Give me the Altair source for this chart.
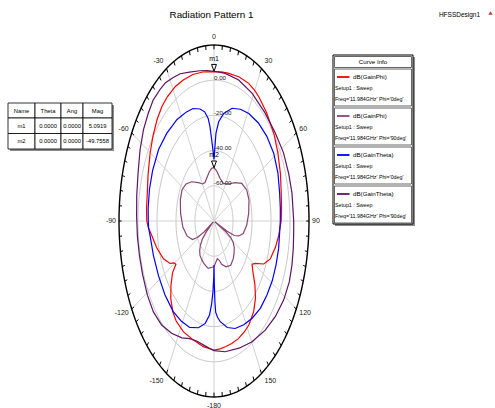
import altair as alt
import numpy as np
import pandas as pd

# ---------------------------------------------------------------------------
# Canvas / polar layout
# ---------------------------------------------------------------------------
W, H = 495, 408
CX, CY = 214, 221          # centre of the pattern (px)
RX, RY = 95, 176           # half-axes of the outer ring (px)
DB_MIN, DB_MAX = -80, 20   # radial range (dB)
FONT = "Liberation Sans Narrow, Arial Narrow, Liberation Sans, Arial, sans-serif"

# ---------------------------------------------------------------------------
# Marker table values
# ---------------------------------------------------------------------------
marker_names = ["m1", "m2"]
marker_theta = [0.0, 0.0]
marker_ang = [0.0, 0.0]
marker_mag = [5.0919, -49.7558]

# ---------------------------------------------------------------------------
# Traces: theta (deg) and gain (dB)
# ---------------------------------------------------------------------------
# dB(GainPhi), Phi='0deg'
phi0_gphi_theta = [-180, -171, -162, -153, -145, -140, -134, -129, -124, -121.5,
                   -119.5, -117.5, -112, -104, -97, -93, -90, -84, -77, -69,
                   -60, -53, -46, -40, -35, -28, -22, -15, -8, 0,
                   5, 10, 18, 25, 30, 34, 42, 52, 60, 69,
                   77, 84, 90, 97, 103, 110, 115, 119, 121.5, 125,
                   130, 135, 141, 148, 153, 159, 165, 170, 175, 180]
phi0_gphi_db = [-6.7, -7.7, -9.0, -9.3, -10.6, -12.6, -16.7, -21.7, -27.3, -33.0,
                -31.7, -27.8, -22.6, -17.7, -13.9, -10.7, -9.2, -8.6, -8.0, -5.7,
                -2.4, 0.4, 3.2, 5.1, 6.0, 6.6, 6.4, 6.2, 5.5, 4.9,
                5.0, 5.3, 6.0, 6.3, 5.7, 4.8, 2.8, 0.2, -2.4, -5.1,
                -7.4, -8.5, -9.3, -11.4, -13.6, -17.0, -22.2, -30.3, -33.0, -30.1,
                -23.8, -18.2, -13.7, -10.5, -9.4, -8.4, -7.9, -7.6, -7.1, -6.7]

# dB(GainPhi), Phi='90deg'
phi90_gphi_theta = [-180, -167, -157, -150, -143, -138, -134, -130, -127, -124,
                    -121, -118, -115, -107, -96, -83, -71.5, -62.4, -54.5, -46.5,
                    -37, -29.6, -23.5, -17.6, -10, -4.7, 0, 5.6, 14.5, 24.6,
                    35.7, 45.4, 53.8, 62.9, 72, 83, 94, 103, 108, 111,
                    113, 114.5, 116, 118, 121, 125, 131, 136.5, 145, 154,
                    162, 166, 170.7, 175, 180]
phi90_gphi_db = [-54.0, -52.4, -53.5, -54.5, -55.5, -57.5, -60.0, -64.0, -70.0, -79.0,
                 -68.0, -60.0, -55.0, -50.5, -47.0, -44.6, -42.6, -42.0, -43.8, -47.6,
                 -52.7, -55.8, -56.2, -54.5, -51.6, -50.0, marker_mag[1], -51.3, -54.9, -56.5,
                 -54.1, -49.0, -43.8, -41.3, -41.3, -43.2, -45.5, -48.4, -52.5, -57.0,
                 -65.0, -79.0, -66.0, -60.0, -56.5, -54.0, -52.0, -50.5, -49.3, -51.0,
                 -54.1, -57.0, -58.3, -56.6, -54.0]

# dB(GainTheta), Phi='0deg'
phi0_gth_theta = [-180, -179.5, -178.5, -177, -175, -171, -165, -157, -149, -140,
                  -129, -118, -107, -97, -93, -90, -84, -75, -66, -55,
                  -45, -34, -25, -19, -13, -9, -6, -4.5, -3, -1.5,
                  0, 1, 2.4, 5, 9.5, 16.5, 23.6, 31, 40, 49,
                  58.5, 68, 77, 84, 90, 95, 103, 111, 119, 127,
                  135.5, 144, 152, 160, 167, 173.4, 176, 178, 178.8, 179.5, 180]
phi0_gth_db = [-55.0, -48.0, -40.0, -33.0, -26.4, -21.1, -17.2, -14.3, -13.5, -13.0,
               -13.5, -13.8, -13.3, -12.2, -11.0, -10.8, -10.3, -9.7, -9.3, -8.9,
               -9.6, -10.4, -11.6, -12.4, -14.7, -17.2, -21.4, -26.2, -33.9, -40.0,
               -45.0, -39.7, -30.0, -23.4, -18.0, -13.2, -10.7, -8.8, -7.3, -6.5,
               -6.3, -7.4, -9.1, -9.8, -10.2, -10.6, -10.2, -10.1, -9.9, -10.2,
               -10.4, -11.7, -13.2, -15.0, -17.9, -22.4, -25.0, -28.0, -34.0, -45.0, -55.0]

# dB(GainTheta), Phi='90deg'
phi90_gth_theta = [-180, -172, -165, -159, -153, -145, -137, -129, -121, -112,
                   -104, -96, -88, -80, -71, -62.6, -55, -48.5, -43, -37,
                   -33, -28, -23, -17, -10, -5, 0, 8, 18, 29,
                   41, 52, 62, 71, 79, 90, 94, 100.5, 107, 113.5,
                   121.5, 130, 139, 150, 160, 171, 180]
phi90_gth_db = [-6.3, -8.5, -9.4, -8.4, -5.5, -2.1, 0.8, 2.1, 1.8, 1.1,
                0.9, 1.1, 1.5, 2.6, 4.5, 7.7, 10.6, 12.4, 13.9, 13.9,
                13.7, 12.2, 10.9, 8.5, 6.7, 5.8, marker_mag[0], 4.7, 4.2, 2.9,
                1.6, 1.6, 2.8, 3.1, 3.6, 3.9, 4.1, 4.9, 5.8, 6.5,
                6.0, 4.4, 2.2, -0.6, -3.1, -4.8, -6.3]

trace_keys = ["gphi0", "gphi90", "gth0", "gth90"]
trace_colors = ["#ff0000", "#8b4370", "#0000ff", "#5c1466"]
trace_names = ["dB(GainPhi)", "dB(GainPhi)", "dB(GainTheta)", "dB(GainTheta)"]
trace_setup = ["Setup1 : Sweep"] * 4
trace_freq = ["Freq='11.984GHz' Phi='0deg'", "Freq='11.984GHz' Phi='90deg'",
              "Freq='11.984GHz' Phi='0deg'", "Freq='11.984GHz' Phi='90deg'"]

# grid definition
ring_levels = [-60, -40, -20, 0]
ring_labels = ["-60.00", "-40.00", "-20.00", "0.00"]
spoke_angles = list(range(0, 360, 30))
angle_label_values = [0, 30, 60, 90, 120, 150, 180, -150, -120, -90, -60, -30]
angle_label_text = ["0", "30", "60", "90", "120", "150", "-180", "-150", "-120", "-90", "-60", "-30"]

# ---------------------------------------------------------------------------
# helpers
# ---------------------------------------------------------------------------
xs = alt.Scale(domain=[-CX / RX, (W - CX) / RX], range=[0, W], nice=False, zero=False)
ys = alt.Scale(domain=[-(H - CY) / RY, CY / RY], range=[H, 0], nice=False, zero=False)


def U(px):
    return (px - CX) / RX


def V(py):
    return (CY - py) / RY


def xy(xf="u", yf="v"):
    return dict(x=alt.X(f"{xf}:Q", scale=xs, axis=None),
                y=alt.Y(f"{yf}:Q", scale=ys, axis=None))


def polar(chart):
    r = f"(datum.db - ({DB_MIN})) / {DB_MAX - DB_MIN}"
    return (chart.transform_calculate(r=r)
            .transform_calculate(u="datum.r * sin(datum.theta * PI / 180)")
            .transform_calculate(v="datum.r * cos(datum.theta * PI / 180)"))


# ---------------------------------------------------------------------------
# grid: rings, spokes, outer ellipse, ticks
# ---------------------------------------------------------------------------
ring_theta = list(range(0, 361, 2))
rings_df = pd.DataFrame([(lvl, t, k) for lvl in ring_levels for k, t in enumerate(ring_theta)],
                        columns=["db", "theta", "i"])
rings = polar(alt.Chart(rings_df)).mark_line(color="#c8c8c8", strokeWidth=1).encode(
    **xy(), detail="db:N", order="i:Q")

outer_df = pd.DataFrame({"db": DB_MAX, "theta": ring_theta, "i": range(len(ring_theta))})
outer = polar(alt.Chart(outer_df)).mark_line(color="#000000", strokeWidth=1.4).encode(
    **xy(), order="i:Q")

spokes_df = pd.DataFrame({"theta": spoke_angles, "u0": 0.0, "v0": 0.0})
spokes = alt.Chart(spokes_df).transform_calculate(
    u="sin(datum.theta * PI / 180)", v="cos(datum.theta * PI / 180)"
).mark_rule(color="#d2d2d2", strokeWidth=1).encode(
    x=alt.X("u0:Q", scale=xs, axis=None), y=alt.Y("v0:Q", scale=ys, axis=None),
    x2="u:Q", y2="v:Q")

ticks_df = pd.DataFrame({"theta": list(range(-180, 180, 5))})
ticks = alt.Chart(ticks_df).transform_calculate(
    u="sin(datum.theta * PI / 180)", v="cos(datum.theta * PI / 180)",
).transform_calculate(
    u2="0.972 * datum.u", v2="0.975 * datum.v"
).mark_rule(color="#000000", strokeWidth=1).encode(
    x=alt.X("u:Q", scale=xs, axis=None), y=alt.Y("v:Q", scale=ys, axis=None),
    x2="u2:Q", y2="v2:Q")

# angle labels around the rim
lab_rows = []
for a, t in zip(angle_label_values, angle_label_text):
    s, c = np.sin(np.radians(a)), np.cos(np.radians(a))
    side = "center" if abs(s) < 0.1 else ("left" if s > 0 else "right")
    off = 0 if side == "center" else (3 if s > 0 else -3)
    lab_rows.append({"u": s + off / RX, "v": c + 8.5 * c / RY, "t": t, "side": side})
lab_df = pd.DataFrame(lab_rows)
angle_labels = []
for side in ["center", "left", "right"]:
    angle_labels.append(
        alt.Chart(lab_df[lab_df.side == side]).mark_text(
            font=FONT, fontSize=7, align=side, baseline="middle", color="#202020"
        ).encode(**xy(), text="t:N"))

# radial labels
rlab_df = pd.DataFrame({"db": ring_levels, "t": ring_labels, "theta": 0.0})
radial_labels = polar(alt.Chart(rlab_df)).transform_calculate(
    v2=f"datum.v + 2.5 / {RY}"
).mark_text(font=FONT, fontSize=6.2, align="left", baseline="middle", color="#202020").encode(
    x=alt.X("u:Q", scale=xs, axis=None), y=alt.Y("v2:Q", scale=ys, axis=None), text="t:N")

# ---------------------------------------------------------------------------
# traces
# ---------------------------------------------------------------------------
def trace_frame(theta, db, key):
    return pd.DataFrame({"theta": theta, "db": db, "curve": key, "i": range(len(theta))})


traces_df = pd.concat([
    trace_frame(phi0_gphi_theta, phi0_gphi_db, trace_keys[0]),
    trace_frame(phi90_gphi_theta, phi90_gphi_db, trace_keys[1]),
    trace_frame(phi0_gth_theta, phi0_gth_db, trace_keys[2]),
    trace_frame(phi90_gth_theta, phi90_gth_db, trace_keys[3]),
], ignore_index=True)

trace_layers = []
for k, col in zip(trace_keys, trace_colors):
    trace_layers.append(
        polar(alt.Chart(traces_df[traces_df.curve == k])).mark_line(
            color=col, strokeWidth=1.2
        ).encode(**xy(), order="i:Q"))

# ---------------------------------------------------------------------------
# markers
# ---------------------------------------------------------------------------
markers_df = pd.DataFrame({"name": marker_names, "theta": marker_theta, "db": marker_mag})
TRI = "M-0.72,-1L0.72,-1L0,1Z"
marker_tri = polar(alt.Chart(markers_df)).mark_point(
    shape=TRI, size=46, filled=True, fill="#ffffff", stroke="#000000", strokeWidth=1,
    opacity=1, yOffset=-3.4
).encode(**xy())
marker_txt = polar(alt.Chart(markers_df)).mark_text(
    font=FONT, fontSize=7, align="center", baseline="middle", yOffset=-12.5, color="#000000"
).encode(**xy(), text="name:N")

# ---------------------------------------------------------------------------
# titles
# ---------------------------------------------------------------------------
head_df = pd.DataFrame([{"u": U(211.5), "v": V(15), "t": "Radiation Pattern 1"}])
title = alt.Chart(head_df).mark_text(font=FONT, fontSize=9.8, align="center", baseline="middle",
                                     color="#000000").encode(**xy(), text="t:N")
design_df = pd.DataFrame([{"u": U(459.5), "v": V(15), "t": "HFSSDesign1"}])
design = alt.Chart(design_df).mark_text(font=FONT, fontSize=6.5, align="center", baseline="middle",
                                        color="#000000").encode(**xy(), text="t:N")
logo_df = pd.DataFrame([{"u": U(490.5), "v": V(13)}])
logo = alt.Chart(logo_df).mark_point(shape="triangle-up", size=18, filled=True, color="#c0392b",
                                     opacity=1).encode(**xy())

# ---------------------------------------------------------------------------
# marker table
# ---------------------------------------------------------------------------
col_edges = [8, 35, 61, 83, 112]
row_edges = [103, 118, 133.5, 149]
table_rows = [["Name", "Theta", "Ang", "Mag"]]
for n, th, an, mg in zip(marker_names, marker_theta, marker_ang, marker_mag):
    table_rows.append([n, f"{th:.4f}", f"{an:.4f}", f"{mg:.4f}"])

cells, cell_txt = [], []
for ri, row in enumerate(table_rows):
    for ci, val in enumerate(row):
        x0, x1 = col_edges[ci], col_edges[ci + 1]
        y0, y1 = row_edges[ri], row_edges[ri + 1]
        cells.append({"u": U(x0), "u2": U(x1), "v": V(y0), "v2": V(y1)})
        cell_txt.append({"u": U((x0 + x1) / 2), "v": V((y0 + y1) / 2), "t": val})
cells_df = pd.DataFrame(cells)
table_shadow = alt.Chart(pd.DataFrame([{"u": U(col_edges[0] + 2), "u2": U(col_edges[-1] + 2),
                                        "v": V(row_edges[0] + 2), "v2": V(row_edges[-1] + 2)}])
                         ).mark_rect(fill="#8a8a8a").encode(**xy(), x2="u2:Q", y2="v2:Q")
table_cells = alt.Chart(cells_df).mark_rect(fill="#ffffff", stroke="#000000", strokeWidth=0.8).encode(
    **xy(), x2="u2:Q", y2="v2:Q")
table_text = alt.Chart(pd.DataFrame(cell_txt)).mark_text(
    font=FONT, fontSize=5.8, align="center", baseline="middle", color="#000000").encode(**xy(), text="t:N")

# ---------------------------------------------------------------------------
# curve info legend
# ---------------------------------------------------------------------------
LX0, LX1 = 333, 413
LHEAD0, LHEAD1 = 55, 68
ENTRY_H = 39
box_rows = [{"u": U(LX0), "u2": U(LX1), "v": V(LHEAD0), "v2": V(LHEAD1 + 4 * ENTRY_H)}]
legend_shadow = alt.Chart(pd.DataFrame([{"u": U(LX0 + 2), "u2": U(LX1 + 2), "v": V(LHEAD0 + 2),
                                         "v2": V(LHEAD1 + 4 * ENTRY_H + 2)}])
                          ).mark_rect(fill="#8a8a8a").encode(**xy(), x2="u2:Q", y2="v2:Q")
legend_box = alt.Chart(pd.DataFrame(box_rows)).mark_rect(
    fill="#ffffff", stroke="#000000", strokeWidth=1).encode(**xy(), x2="u2:Q", y2="v2:Q")

inner_rows = [{"u": U(LX0 + 1.5), "u2": U(LX1 - 1.5), "v": V(LHEAD0 + 1.5), "v2": V(LHEAD1 - 0.5)}]
swatch_rows, name_rows, small_rows = [], [], []
for k in range(4):
    top = LHEAD1 + k * ENTRY_H
    inner_rows.append({"u": U(LX0 + 1.5), "u2": U(LX1 - 1.5), "v": V(top + 1), "v2": V(top + ENTRY_H - 1)})
    swatch_rows.append({"u": U(337), "u2": U(349.5), "v": V(top + 9), "key": trace_keys[k]})
    name_rows.append({"u": U(353), "v": V(top + 9), "t": trace_names[k]})
    small_rows.append({"u": U(335), "v": V(top + 20), "t": trace_setup[k]})
    small_rows.append({"u": U(335), "v": V(top + 31), "t": trace_freq[k]})

legend_inner = alt.Chart(pd.DataFrame(inner_rows)).mark_rect(
    fill="#ffffff", stroke="#404040", strokeWidth=0.8).encode(**xy(), x2="u2:Q", y2="v2:Q")
legend_swatch = alt.Chart(pd.DataFrame(swatch_rows)).mark_rule(strokeWidth=1.8).encode(
    **xy(), x2="u2:Q",
    color=alt.Color("key:N", scale=alt.Scale(domain=trace_keys, range=trace_colors), legend=None))
legend_head = alt.Chart(pd.DataFrame([{"u": U((LX0 + LX1) / 2), "v": V((LHEAD0 + LHEAD1) / 2),
                                       "t": "Curve Info"}])).mark_text(
    font=FONT, fontSize=6.2, align="center", baseline="middle", color="#000000").encode(**xy(), text="t:N")
legend_names = alt.Chart(pd.DataFrame(name_rows)).mark_text(
    font=FONT, fontSize=6.2, align="left", baseline="middle", color="#000000").encode(**xy(), text="t:N")
legend_small = alt.Chart(pd.DataFrame(small_rows)).mark_text(
    font=FONT, fontSize=5.3, align="left", baseline="middle", color="#000000").encode(**xy(), text="t:N")

# ---------------------------------------------------------------------------
chart = alt.layer(
    rings, spokes, *trace_layers, outer, ticks, *angle_labels, radial_labels,
    marker_tri, marker_txt, title, design, logo,
    table_shadow, table_cells, table_text,
    legend_shadow, legend_box, legend_inner, legend_swatch, legend_head, legend_names, legend_small,
).properties(
    width=W, height=H, padding=0, autosize=alt.AutoSizeParams(type="none"), background="#ffffff"
).configure_view(stroke=None)

chart.save("out.html", embed_options={"renderer": "svg", "actions": False})
